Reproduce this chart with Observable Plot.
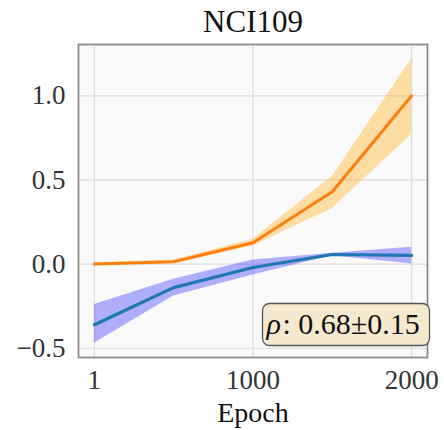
<!DOCTYPE html>
<html>
<head>
<meta charset="utf-8">
<script src="https://cdn.jsdelivr.net/npm/d3@7"></script>
<script src="https://cdn.jsdelivr.net/npm/@observablehq/plot@0.6"></script>
<style>
  html, body { margin: 0; padding: 0; background: white; }
</style>
</head>
<body>
<div id="chart"></div>
<script>
const title = "NCI109";
const xLabel = "Epoch";
const epochs = [1, 500, 1000, 1500, 2000];
const xTicks = [1, 1000, 2000];
const yTicks = [-0.5, 0.0, 0.5, 1.0];

const orangeMean = [0.0, 0.014, 0.127, 0.43, 1.0];
const orangeLow  = [-0.006, 0.004, 0.108, 0.33, 0.77];
const orangeHigh = [0.006, 0.024, 0.148, 0.52, 1.22];

const blueMean = [-0.36, -0.14, -0.02, 0.057, 0.052];
const blueLow  = [-0.47, -0.19, -0.065, 0.05, 0.0];
const blueHigh = [-0.24, -0.09, 0.025, 0.065, 0.10];

const rhoLabel = ["ρ", ": 0.68±0.15"];

const orange = epochs.map((e, i) => ({epoch: e, mean: orangeMean[i], low: orangeLow[i], high: orangeHigh[i]}));
const blue = epochs.map((e, i) => ({epoch: e, mean: blueMean[i], low: blueLow[i], high: blueHigh[i]}));

const font = "'Liberation Serif', 'DejaVu Serif', serif";
const fmtY = d => d.toFixed(1).replace("-", "\u2212");

const chart = Plot.plot({
  width: 444,
  height: 430,
  marginLeft: 78,
  marginRight: 17,
  marginTop: 44,
  marginBottom: 73,
  style: {fontFamily: font, background: "white", overflow: "visible"},
  x: {domain: [-99, 2100]},
  y: {domain: [-0.555, 1.305]},
  marks: [
    Plot.frame({fill: "#fafafa", stroke: null}),
    Plot.gridX(xTicks, {stroke: "#dcdcdc", strokeOpacity: 1, strokeWidth: 1.2}),
    Plot.gridY(yTicks, {stroke: "#dcdcdc", strokeOpacity: 1, strokeWidth: 1.2}),
    Plot.areaY(blue, {x: "epoch", y1: "low", y2: "high", fill: "#0000ff", fillOpacity: 0.3}),
    Plot.areaY(orange, {x: "epoch", y1: "low", y2: "high", fill: "#ffa500", fillOpacity: 0.35}),
    Plot.line(orange, {x: "epoch", y: "mean", stroke: "#ff7f0e", strokeWidth: 3}),
    Plot.line(blue, {x: "epoch", y: "mean", stroke: "#1f77b4", strokeWidth: 3.2}),
    Plot.frame({stroke: "#8c8c8c", strokeWidth: 1.8}),
    Plot.axisX(xTicks, {tickSize: 0, tickPadding: 12, fontSize: 27, fill: "#333", label: null, tickFormat: d => String(d)}),
    Plot.axisY(yTicks, {tickSize: 0, tickPadding: 13, fontSize: 27, fill: "#333", label: null, tickFormat: fmtY}),
    Plot.frame({fill: "#f7e9d0", stroke: "#555", strokeWidth: 1.3, rx: 7,
      insetLeft: 184, insetRight: -2, insetTop: 259, insetBottom: 12}),
    Plot.text([rhoLabel[0]], {frameAnchor: "bottom-left", dx: 188, dy: -33, lineAnchor: "middle", textAnchor: "start",
      fontSize: 30, fontStyle: "italic", fill: "#111", text: d => d}),
    Plot.text([rhoLabel[1]], {frameAnchor: "bottom-left", dx: 204, dy: -33, lineAnchor: "middle", textAnchor: "start",
      fontSize: 30, fill: "#111", text: d => d}),
    Plot.text([xLabel], {frameAnchor: "bottom", dy: 56, lineAnchor: "middle", fontSize: 28, fill: "#111", text: d => d}),
    Plot.text([title], {frameAnchor: "top", dy: -22, lineAnchor: "middle", fontSize: 31, fill: "#111", text: d => d})
  ]
});
document.getElementById("chart").appendChild(chart);
</script>
</body>
</html>
